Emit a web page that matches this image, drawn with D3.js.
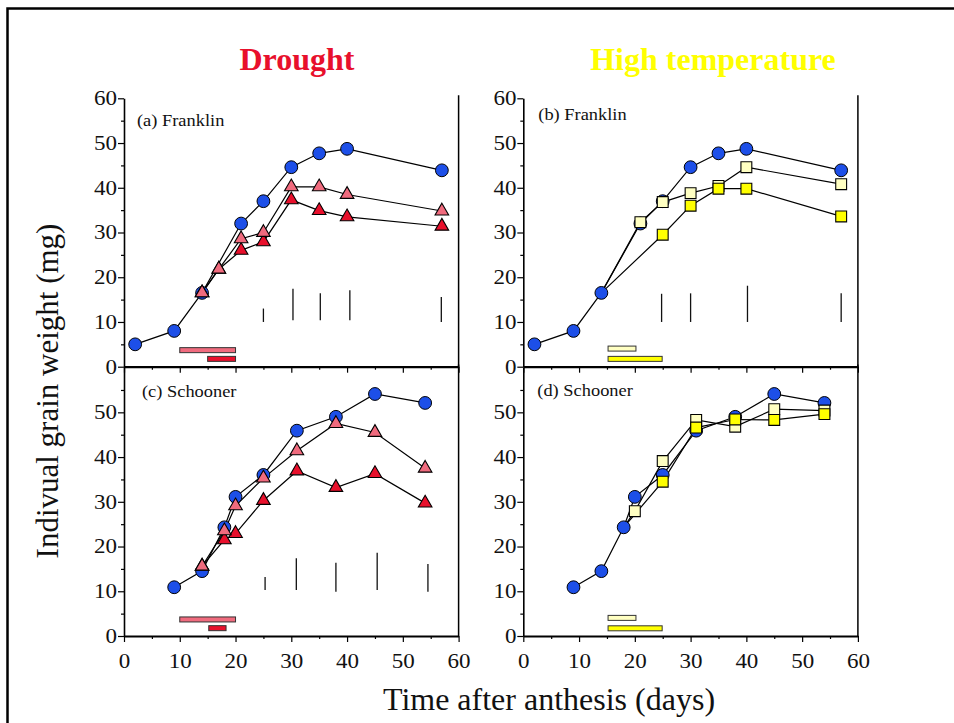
<!DOCTYPE html>
<html>
<head>
<meta charset="utf-8">
<script src="https://cdn.jsdelivr.net/npm/d3@7"></script>
<style>
  html, body { margin: 0; padding: 0; background: #fff; }
  svg { display: block; }
  text { font-family: "Liberation Serif", "Times New Roman", serif; }
</style>
</head>
<body>
<svg id="chart" width="954" height="723"></svg>
<script>
// ---- Grain weight (mg) against days after anthesis ----
// Franklin
const franklinControl        = [[2,5],[9,8],[14,16.5],[21,32],[25,37],[30,44.6],[35,47.7],[40,48.7],[57,43.9]];
const franklinDroughtMild    = [[14,16.5],[17,21.8],[21,28.6],[25,30],[30,40.2],[35,40.2],[40,38.5],[57,34.8]];
const franklinDroughtSevere  = [[14,16.5],[17,21.8],[21,26],[25,27.9],[30,37.3],[35,34.9],[40,33.5],[57,31.4]];
const franklinHeatMild       = [[14,16.5],[21,32.3],[25,36.8],[30,38.8],[35,40.4],[40,44.6],[57,40.8]];
const franklinHeatSevere     = [[14,16.5],[25,29.5],[30,36],[35,39.8],[40,39.8],[57,33.6]];
// Schooner
const schoonerControl        = [[9,10.9],[14,14.5],[18,24.3],[20,31.1],[25,36],[31,45.9],[38,49],[45,54.1],[54,52.1]];
const schoonerDroughtMild    = [[14,15.6],[18,23.5],[20,29.1],[25,35.3],[31,41.4],[38,47.5],[45,45.5],[54,37.5]];
const schoonerDroughtSevere  = [[14,15.6],[18,21.5],[20,22.9],[25,30.3],[31,36.9],[38,33.2],[45,36.3],[54,29.7]];
const schoonerHeatMild       = [[18,24.3],[20,27.9],[25,39.1],[31,48.3],[38,46.8],[45,50.7],[54,50.4]];
const schoonerHeatSevere     = [[18,24.3],[25,34.5],[31,46.6],[38,48.4],[45,48.3],[54,49.6]];

// LSD bars: [day, low, high]
const franklinDroughtLsd = [[25,10,13],[30.3,10.4,17.4],[35.2,10.4,16.4],[40.5,10.4,17.1],[56.9,10,15.6]];
const franklinHeatLsd    = [[24.8,10,16.3],[30,10,16.4],[40.2,10,18.1],[57,10,16.4]];
const schoonerDroughtLsd = [[25.3,10.3,13.2],[30.9,10.3,17.4],[38,9.9,16.4],[45.4,10.3,18.6],[54.5,9.9,16.1]];
const schoonerHeatLsd    = [];

// Stress periods: [start day, end day, level]
const franklinDroughtPeriods = [[10,20,3.7],[15,20,1.75]];
const franklinHeatPeriods    = [[15.2,20.2,4.05],[15.2,24.9,1.75]];
const schoonerDroughtPeriods = [[10,20,3.7],[15.2,18.3,1.75]];
const schoonerHeatPeriods    = [[15.2,20.2,4.05],[15.2,24.9,1.72]];

// Axis ticks
const xTicks      = [0,10,20,30,40,50,60];
const xMinorTicks = [5,15,25,35,45,55];
const yTicksTop    = [0,10,20,30,40,50,60];
const yTicksBottom = [0,10,20,30,40,50];
const yMinorTicks  = [5,15,25,35,45,55];

const panelLabels = ["(a) Franklin","(b) Franklin","(c) Schooner","(d) Schooner"];
const columnTitles = ["Drought","High temperature"];
const xTitle = "Time after anthesis (days)";
const yTitle = "Indivual grain weight (mg)";

// ---- Styles ----
const C = {
  control: "#1d4fe8",
  droughtMild: "#f06b7e",
  droughtSevere: "#e8102c",
  heatMild: "#ffffc2",
  heatSevere: "#ffff00",
  droughtTitle: "#e8102c",
  heatTitle: "#ffff00"
};

const svg = d3.select("#chart");

// outer frame
svg.append("rect").attr("x", 7.5).attr("y", 8.5).attr("width", 1000).attr("height", 800)
  .attr("fill", "none").attr("stroke", "#000").attr("stroke-width", 2.5);

const colX = [124, 523.3];
const rowY = [98.3, 367.6];
const PW = 334.6, PH = 268.4;
const STRETCH = 1.15;

const panels = [
  { col:0, row:0, label:panelLabels[0], lab:[13,28], yTicks:yTicksTop, xLabels:false,
    series:[
      {data:franklinControl, kind:"circle", fill:C.control, markFirst:true},
      {data:franklinDroughtSevere, kind:"triangle", fill:C.droughtSevere, markFirst:true},
      {data:franklinDroughtMild, kind:"triangle", fill:C.droughtMild, markFirst:true}],
    lsd:franklinDroughtLsd, periods:franklinDroughtPeriods, periodFill:[C.droughtMild, C.droughtSevere] },
  { col:1, row:0, label:panelLabels[1], lab:[15,22], yTicks:yTicksTop, xLabels:false,
    series:[
      {data:franklinHeatMild, kind:"square", fill:C.heatMild, markFirst:false},
      {data:franklinHeatSevere, kind:"square", fill:C.heatSevere, markFirst:false},
      {data:franklinControl, kind:"circle", fill:C.control, markFirst:true}],
    order:[2,0,1],
    lsd:franklinHeatLsd, periods:franklinHeatPeriods, periodFill:[C.heatMild, C.heatSevere] },
  { col:0, row:1, label:panelLabels[2], lab:[18,29.5], yTicks:yTicksBottom, xLabels:true,
    series:[
      {data:schoonerControl, kind:"circle", fill:C.control, markFirst:true},
      {data:schoonerDroughtSevere, kind:"triangle", fill:C.droughtSevere, markFirst:true},
      {data:schoonerDroughtMild, kind:"triangle", fill:C.droughtMild, markFirst:true}],
    lsd:schoonerDroughtLsd, periods:schoonerDroughtPeriods, periodFill:[C.droughtMild, C.droughtSevere] },
  { col:1, row:1, label:panelLabels[3], lab:[14,28.5], yTicks:yTicksBottom, xLabels:true,
    series:[
      {data:schoonerHeatMild, kind:"square", fill:C.heatMild, markFirst:false},
      {data:schoonerHeatSevere, kind:"square", fill:C.heatSevere, markFirst:false},
      {data:schoonerControl, kind:"circle", fill:C.control, markFirst:true}],
    order:[2,0,1],
    lsd:schoonerHeatLsd, periods:schoonerHeatPeriods, periodFill:[C.heatMild, C.heatSevere] }
];

// top panels first so the bottom panels' axes sit over the shared edge
panels.forEach(p => {
  const x0 = colX[p.col], y0 = rowY[p.row];
  const x = d3.scaleLinear().domain([0,60]).range([x0, x0 + PW]);
  const y = d3.scaleLinear().domain([0,60]).range([y0 + PH, y0]);
  const g = svg.append("g");

  // right border
  g.append("line").attr("x1", x(60)).attr("x2", x(60)).attr("y1", y(60) - 3).attr("y2", y(0))
    .attr("stroke", "#000").attr("stroke-width", 1.5);

  // y axis: minor then major ticks
  g.append("g").attr("transform", `translate(${x(0)},0)`)
    .call(d3.axisLeft(y).tickValues(yMinorTicks).tickSize(3).tickFormat(""))
    .call(a => a.select(".domain").remove())
    .call(a => a.selectAll("line").attr("stroke-width", 1.2));
  const ya = g.append("g").attr("transform", `translate(${x(0)},0)`)
    .call(d3.axisLeft(y).tickValues(p.yTicks).tickSize(6).tickSizeOuter(0).tickPadding(0));
  ya.select(".domain").attr("stroke-width", 1.6);
  ya.selectAll("line").attr("stroke-width", 1.2);
  ya.selectAll("text").attr("font-size", 20).attr("fill", "#111")
    .attr("font-family", "Liberation Serif")
    .attr("transform", `scale(${STRETCH},1)`);

  // x axis: minor then major ticks
  g.append("g").attr("transform", `translate(0,${y(0)})`)
    .call(d3.axisBottom(x).tickValues(xMinorTicks).tickSize(3).tickFormat(""))
    .call(a => a.select(".domain").remove())
    .call(a => a.selectAll("line").attr("stroke-width", 1.2));
  const xa = g.append("g").attr("transform", `translate(0,${y(0)})`)
    .call(d3.axisBottom(x).tickValues(xTicks).tickSize(6).tickSizeOuter(0).tickPadding(12)
      .tickFormat(p.xLabels ? d3.format("d") : ""));
  xa.select(".domain").attr("stroke-width", 2.2);
  xa.selectAll("line").attr("stroke-width", 1.2);
  // labels stretched about their tick so they stay centred
  xa.selectAll("text").attr("font-size", 20).attr("fill", "#111")
    .attr("font-family", "Liberation Serif")
    .attr("transform", `scale(${STRETCH},1)`);

  // panel label
  g.append("text").attr("x", 0).attr("y", 0)
    .attr("transform", `translate(${x0 + p.lab[0]},${y0 + p.lab[1]}) scale(${STRETCH},1)`)
    .attr("font-size", 16).attr("fill", "#111").text(p.label);

  // LSD bars
  g.selectAll(".lsd").data(p.lsd).join("line")
    .attr("x1", d => x(d[0])).attr("x2", d => x(d[0]))
    .attr("y1", d => y(d[1])).attr("y2", d => y(d[2]))
    .attr("stroke", "#111").attr("stroke-width", 1.3);

  // stress periods
  g.selectAll(".period").data(p.periods).join("rect")
    .attr("x", d => x(d[0])).attr("width", d => x(d[1]) - x(d[0]))
    .attr("y", d => y(d[2]) - 2.5).attr("height", 5)
    .attr("fill", (d, i) => p.periodFill[i])
    .attr("stroke", "#333").attr("stroke-width", 1);

  // lines
  const line = d3.line().x(d => x(d[0])).y(d => y(d[1]));
  p.series.forEach(s => {
    g.append("path").attr("d", line(s.data)).attr("fill", "none")
      .attr("stroke", "#000").attr("stroke-width", 1.2);
  });

  // markers
  const order = p.order || p.series.map((_, i) => i);
  order.forEach(i => {
    const s = p.series[i];
    const pts = s.markFirst ? s.data : s.data.slice(1);
    const mg = g.append("g");
    if (s.kind === "circle") {
      mg.selectAll("circle").data(pts).join("circle")
        .attr("cx", d => x(d[0])).attr("cy", d => y(d[1])).attr("r", 6.4)
        .attr("fill", s.fill).attr("stroke", "#000").attr("stroke-width", 1);
    } else {
      const sym = d3.symbol()
        .type(s.kind === "triangle" ? d3.symbolTriangle : d3.symbolSquare)
        .size(s.kind === "triangle" ? 80 : 118);
      mg.selectAll("path").data(pts).join("path")
        .attr("d", sym)
        .attr("transform", d => `translate(${x(d[0])},${y(d[1])})`)
        .attr("fill", s.fill).attr("stroke", "#000").attr("stroke-width", 1.1);
    }
  });
});

// column titles
svg.append("text").attr("x", 297).attr("y", 70).attr("text-anchor", "middle")
  .attr("font-size", 32).attr("font-weight", "bold").attr("fill", C.droughtTitle)
  .text(columnTitles[0]);
svg.append("text").attr("x", 713).attr("y", 70).attr("text-anchor", "middle")
  .attr("font-size", 32).attr("font-weight", "bold").attr("fill", C.heatTitle)
  .text(columnTitles[1]);

// axis titles
svg.append("text").attr("x", 549).attr("y", 710).attr("text-anchor", "middle")
  .attr("font-size", 32).attr("fill", "#111").text(xTitle);
svg.append("text").attr("transform", "translate(58,391) rotate(-90)")
  .attr("text-anchor", "middle").attr("font-size", 31).attr("fill", "#111").text(yTitle);
</script>
</body>
</html>
